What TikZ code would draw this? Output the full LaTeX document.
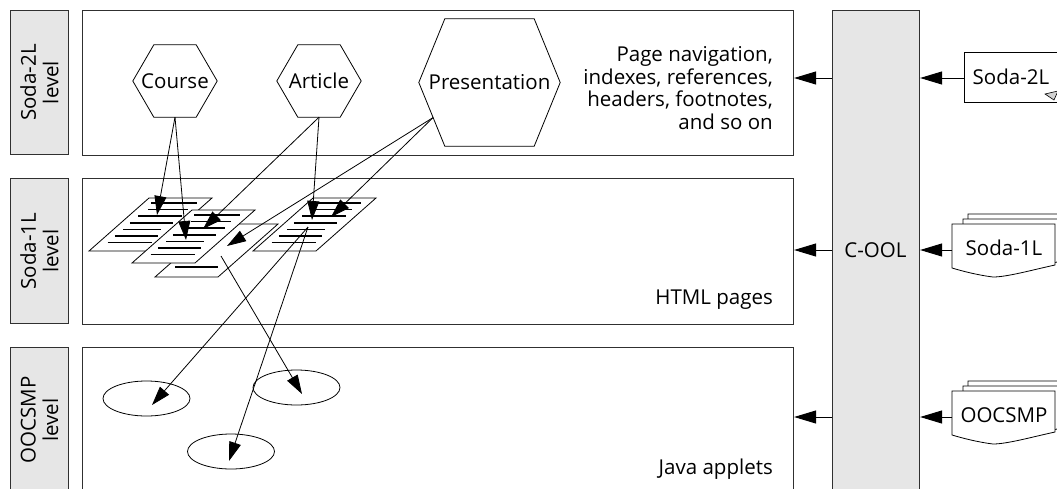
\documentclass[tikz,border=0pt]{standalone}
\usepackage{fontspec}
\setmainfont{Open Sans}
\usetikzlibrary{shapes.geometric,arrows.meta,calc}
\definecolor{boxgray}{HTML}{E6E6E6}
\definecolor{edgec}{HTML}{303030}
\newcommand\hexa[2]{\draw[hexline] (#1.west) -- ($(#1.north west)+(#2,0)$) -- ($(#1.north east)+(-#2,0)$) -- (#1.east) -- ($(#1.south east)+(-#2,0)$) -- ($(#1.south west)+(#2,0)$) -- cycle;}
\newcommand\docpage{\draw[page] (0,0) -- (63,0) -- (123,-53) -- (60,-53) -- cycle;}
\newcommand\doclines{\foreach \k/\o/\l in {0/8/46,1/12/40,2/10/44,3/9/43,4/10/38,5/9/43,6/9/44}{%
  \pgfmathsetmacro\yy{-48+6.6*\k}%
  \pgfmathsetmacro\xx{60*(-\yy)/53+\o}%
  \draw[pline] (\xx,\yy) -- ++(\l,0);}}
\newcommand\docfront{\draw[docshape] (0,0) -- (103,0) -- (103,41) .. controls (80,46) and (55,53) .. (41,53) .. controls (25,51) and (10,47) .. (0,44) -- cycle;}
\begin{document}
\begin{tikzpicture}[x=1pt,y=-1pt,
  txt/.style={font=\fontsize{20.5}{22.5}\selectfont, inner sep=0pt},
  lblbox/.style={draw=edgec, line width=1.1pt, fill=boxgray, minimum width=58pt, inner sep=0pt, anchor=north west},
  lvlbox/.style={draw=edgec, line width=1.1pt, fill=white, minimum width=711pt, inner sep=0pt, anchor=north west},
  hexnode/.style={txt, minimum height=72pt, minimum width=84pt},
  hexline/.style={draw=black, line width=0.8pt},
  conn/.style={line width=0.8pt, -{Triangle[length=19pt,width=12pt]}},
  harr/.style={line width=1pt, -{Triangle[length=22pt,width=13pt]}},
  page/.style={draw=black, fill=white, line width=0.8pt},
  pline/.style={line width=1.5pt},
  oval/.style={ellipse, draw=black, line width=0.8pt, minimum width=87pt, minimum height=35pt, inner sep=0pt},
  docshape/.style={draw=black, fill=white, line width=0.8pt},
]
\useasboundingbox (0,0) rectangle (1057,488);
\clip (0,0) rectangle (1057,488);

% level labels
\node[lblbox, minimum height=144pt] (lb2) at (10,10) {};
\node[txt, rotate=90, align=center] (lb2t) at (lb2.center) {Soda-2L\\level};
\node[lblbox, minimum height=145pt] (lb1) at (10,178) {};
\node[txt, rotate=90, align=center] (lb1t) at (lb1.center) {Soda-1L\\level};
\node[lblbox, minimum height=145pt] (lb0) at (10,347) {};
\node[txt, rotate=90, align=center] (lb0t) at (lb0.center) {OOCSMP\\level};

% level boxes
\node[lvlbox, minimum height=145pt] (L2) at (82,10) {};
\node[lvlbox, minimum height=146pt] (L1) at (82,178) {};
\node[lvlbox, minimum height=145pt] (L0) at (82,347) {};

% C-OOL column
\node[draw=edgec, line width=1.1pt, fill=boxgray, minimum width=87pt, minimum height=482pt, anchor=north west, inner sep=0pt] (cool) at (832,10) {};
\node[txt] (coolt) at (875.5,250) {C-OOL};

% right-hand texts
\node[txt, align=right, anchor=east] (navt) at (773,88) {Page navigation,\\indexes, references,\\headers, footnotes,\\and so on};
\node[txt, anchor=east] (htmlt) at (773,300) {HTML pages};
\node[txt, anchor=east] (javat) at (773,469) {Java applets};

% hexagons
\node[hexnode] (course) at (175,81) {Course};
\hexa{course}{21}
\node[hexnode] (article) at (319,81) {Article};
\hexa{article}{21}
\node[hexnode, minimum width=141pt, minimum height=127pt] (pres) at (489.5,82.5) {Presentation};
\hexa{pres}{26}

% pages
\coordinate (p1) at (89,251);
\coordinate (p2) at (132,263);
\coordinate (p3) at (155,277);
\coordinate (p4) at (253,251);
\begin{scope}[shift={(p3)}]\docpage \draw[pline] (20,-10) -- ++(43,0);\end{scope}
\begin{scope}[shift={(p1)}]\docpage \doclines\end{scope}
\begin{scope}[shift={(p2)}]\docpage \doclines\end{scope}
\begin{scope}[shift={(p4)}]\docpage \doclines\end{scope}

\coordinate (p1in) at (157,215);
\coordinate (p2inA) at (186,240);
\coordinate (p2inB) at (203,229);
\coordinate (p4inA) at (312,220);
\coordinate (p3in) at (227,246);
\coordinate (p4inB) at (331,217);
\coordinate (p4out) at (308,227);
\coordinate (p3out) at (221,256);

% applets
\node[oval] (e1) at (146.5,398.5) {};
\node[oval] (e2) at (296.5,387.5) {};
\node[oval] (e3) at (231,451.5) {};

% connectors
\draw[conn] (course.south) -- (p1in);
\draw[conn] (course.south) -- (p2inA);
\draw[conn] (article.south) -- (p2inB);
\draw[conn] (article.south) -- (p4inA);
\coordinate (pstart) at ($(pres.west)!0.55!($(pres.south west)+(26,0)$)$);
\draw[conn] (pstart) -- (p3in);
\draw[conn] (pstart) -- (p4inB);
\draw[conn] (p4out) -- ($(e1.center)+(5.5,6.5)$);
\draw[conn] (p4out) -- ($(e3.center)+(-2,9.5)$);
\draw[conn] (p3out) -- ($(e2.center)+(5.5,6.5)$);

% source documents
\draw[docshape] (964,52) rectangle (1075,102);
\filldraw[draw=black, fill=gray!35, line width=0.6pt] (1045,94) -- (1058,91) -- (1054,100) -- cycle;
\node[txt] (d2t) at (1011,77) {Soda-2L};
\begin{scope}[shift={(952,224)}]
  \begin{scope}[shift={(16,-10)}]\docfront\end{scope}
  \begin{scope}[shift={(11,-5)}]\docfront\end{scope}
  \docfront
\end{scope}
\node[txt] (d1t) at (1004,248) {Soda-1L};
\begin{scope}[shift={(952,391)}]
  \begin{scope}[shift={(16,-10)}]\docfront\end{scope}
  \begin{scope}[shift={(11,-5)}]\docfront\end{scope}
  \docfront
\end{scope}
\node[txt] (d0t) at (1004,415) {OOCSMP};

\coordinate (d2w) at (964,78);
\coordinate (d1w) at (952,250);
\coordinate (d0w) at (952,417);
\draw[harr] (d2w) -- (d2w -| cool.east);
\draw[harr] (d2w -| cool.west) -- (d2w -| L2.east);
\draw[harr] (d1w) -- (d1w -| cool.east);
\draw[harr] (d1w -| cool.west) -- (d1w -| L1.east);
\draw[harr] (d0w) -- (d0w -| cool.east);
\draw[harr] (d0w -| cool.west) -- (d0w -| L0.east);
\end{tikzpicture}
\end{document}
